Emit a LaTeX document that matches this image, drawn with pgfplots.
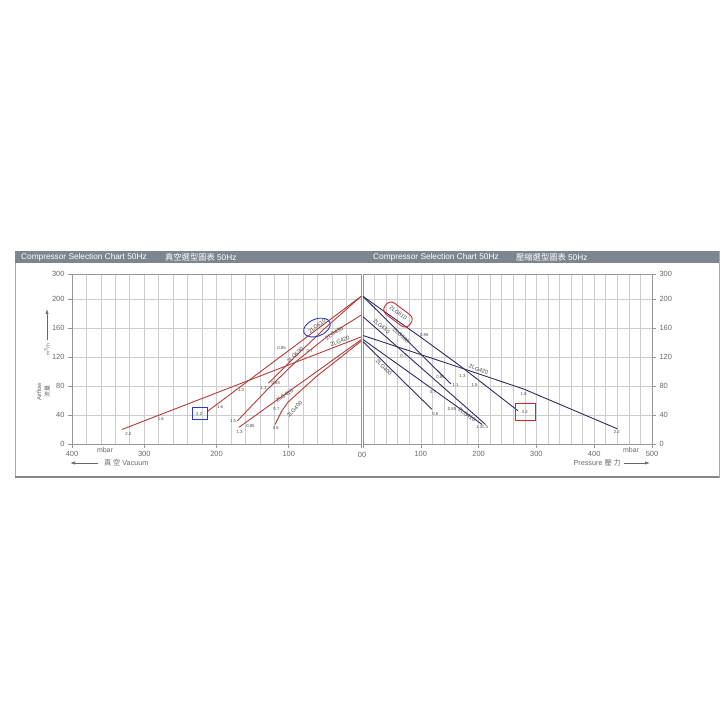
\documentclass[border=0pt]{standalone}
\usepackage{pgfplots}
\pgfplotsset{compat=1.18}
\usepackage{fontspec}
\setmainfont{Liberation Sans}
\newfontfamily\cjk{Noto Sans CJK TC}
\usetikzlibrary{shapes.geometric,arrows.meta}
\definecolor{gridc}{RGB}{205,205,205}
\definecolor{axc}{RGB}{150,150,150}
\definecolor{tickc}{RGB}{105,105,105}
\definecolor{vac}{RGB}{180,60,55}
\definecolor{prs}{RGB}{44,46,98}
\definecolor{barc}{RGB}{125,134,143}
\definecolor{framec}{RGB}{170,170,170}
\definecolor{lab}{RGB}{70,70,70}
\definecolor{hlblue}{RGB}{40,60,200}
\definecolor{hlred}{RGB}{215,40,40}
\pgfplotsset{
  panel/.style={
    scale only axis, width=289bp, height=169.7bp,
    ymin=0, ymax=234.6,
    ytick={0,40,80,120,160,200,234.6},
    yticklabels={0,40,80,120,160,200,300},
    xmajorgrids, xminorgrids, ymajorgrids,
    grid style={gridc, line width=0.6bp},
    minor grid style={gridc, line width=0.6bp},
    axis line style={axc, line width=0.7bp},
    major tick style={axc, line width=0.6bp},
    major tick length=4bp, minor tick length=0pt,
    tick align=outside,
    ticklabel style={font=\fontsize{7.5}{8}\selectfont, text=tickc},
    clip=false,
  },
  vline/.style={vac, line width=0.9bp, no marks},
  pline/.style={prs, line width=0.9bp, no marks},
}
\newcommand{\lb}[1]{{\fontsize{4.3}{5}\selectfont #1}}
\newcommand{\nm}[1]{{\fontsize{5.6}{6}\selectfont #1}}
\begin{document}
\begin{tikzpicture}[x=1bp,y=1bp]
\path[use as bounding box, fill=white] (0,0) rectangle (726,726);
% frame and title bar
\draw[framec, line width=0.8bp] (15,249) rectangle (719,475);
\draw[framec!80!black, line width=1.4bp] (15,249) -- (719,249);
\fill[barc] (15,463) rectangle (719,475);
\node[anchor=west, text=white, font=\fontsize{8.3}{9}\selectfont, inner sep=0] at (21,469) {Compressor Selection Chart 50Hz};
\node[anchor=west, text=white, font=\fontsize{8.3}{9}\selectfont, inner sep=0] at (165,469) {{\cjk 真空選型圖表} 50Hz};
\node[anchor=west, text=white, font=\fontsize{8.3}{9}\selectfont, inner sep=0] at (373,469) {Compressor Selection Chart 50Hz};
\node[anchor=west, text=white, font=\fontsize{8.3}{9}\selectfont, inner sep=0] at (516,469) {{\cjk 壓縮選型圖表} 50Hz};

% ===== Left panel: vacuum =====
\begin{axis}[panel,
  at={(72bp,282bp)}, anchor=south west,
  xmin=0, xmax=400, x dir=reverse,
  xtick={0,100,200,300,400}, xticklabels={,100,200,300,400},
  minor xtick={20,40,60,80,120,140,160,180,220,240,260,280,320,340,360,380},
  xtick pos=bottom, ytick pos=left,
]
\addplot[vline] coordinates {(331,20) (0,148)};                 % 2LG420
\addplot[vline] coordinates {(212,45.5) (0,204)};               % 2LG610
\addplot[vline] coordinates {(128,84) (95,117) (50,160) (0,204)}; % 2LG590
\addplot[vline] coordinates {(171,32) (130,75) (90,114) (45,150) (0,178)}; % 2LG430
\addplot[vline] coordinates {(169,23) (0,144)};                 % 2LG410
\addplot[vline] coordinates {(119,27) (110,45) (101,58) (61,94) (0,142)}; % 2LG400
% point labels
\node[text=lab] at (axis cs:322,14) {\lb{2.2}};
\node[text=lab] at (axis cs:277,35) {\lb{1.6}};
\node[text=lab] at (axis cs:224,42) {\lb{2.2}};
\node[text=lab] at (axis cs:195,51) {\lb{1.6}};
\node[text=lab] at (axis cs:166,74) {\lb{1.3}};
\node[text=lab] at (axis cs:110,132) {\lb{0.85}};
\node[text=lab] at (axis cs:135,78) {\lb{1.1}};
\node[text=lab] at (axis cs:118,84) {\lb{0.85}};
\node[text=lab] at (axis cs:177,32) {\lb{1.5}};
\node[text=lab] at (axis cs:168,17) {\lb{1.3}};
\node[text=lab] at (axis cs:153,25) {\lb{0.85}};
\node[text=lab] at (axis cs:117,48) {\lb{0.7}};
\node[text=lab] at (axis cs:118,22) {\lb{0.6}};
\node[text=lab] at (axis cs:71,128) {\lb{0.7}};
% model labels
\node[text=lab, rotate=36] at (axis cs:61,163) {\nm{2LG610}};
\node[text=lab, rotate=42] at (axis cs:91,123) {\nm{2LG590}};
\node[text=lab, rotate=33] at (axis cs:37,153) {\nm{2LG430}};
\node[text=lab, rotate=21] at (axis cs:29,142) {\nm{2LG420}};
\node[text=lab, rotate=34] at (axis cs:106,67) {\nm{2LG410}};
\node[text=lab, rotate=48] at (axis cs:92,48) {\nm{2LG400}};
% highlights
\node[draw=hlblue, line width=0.9bp, ellipse, minimum width=28bp, minimum height=17bp, rotate=22] at (axis cs:61,161) {};
\draw[hlblue, line width=0.9bp] (axis cs:233,50) rectangle (axis cs:213,33.5);
\end{axis}

% ===== Right panel: pressure =====
\begin{axis}[panel,
  at={(363bp,282bp)}, anchor=south west,
  xmin=0, xmax=500,
  xtick={0,100,200,300,400,500}, xticklabels={,100,200,300,400,500},
  minor xtick={20,40,60,80,120,140,160,180,220,240,260,280,320,340,360,380,420,440,460,480},
  xtick pos=bottom, ytick pos=right, yticklabel pos=right,
]
\addplot[pline] coordinates {(0,204) (101,147) (168,108) (268,46)}; % 2LG610
\addplot[pline] coordinates {(0,204) (152,83)};                 % 2LG590
\addplot[pline] coordinates {(0,176) (212,27)};                 % 2LG430
\addplot[pline] coordinates {(0,150) (159,108) (278,76) (440,21)}; % 2LG420
\addplot[pline] coordinates {(0,144.5) (206,27)};               % 2LG410
\addplot[pline] coordinates {(0,141.5) (119,48)};               % 2LG400
% point labels
\node[text=lab] at (axis cs:106,150) {\lb{0.85}};
\node[text=lab] at (axis cs:70,121) {\lb{0.7}};
\node[text=lab] at (axis cs:172,94) {\lb{1.3}};
\node[text=lab] at (axis cs:193,82) {\lb{1.5}};
\node[text=lab] at (axis cs:134,93) {\lb{0.85}};
\node[text=lab] at (axis cs:160,82) {\lb{1.1}};
\node[text=lab] at (axis cs:278,69) {\lb{1.6}};
\node[text=lab] at (axis cs:280,44) {\lb{2.2}};
\node[text=lab] at (axis cs:439,16) {\lb{2.2}};
\node[text=lab] at (axis cs:121,72) {\lb{0.7}};
\node[text=lab] at (axis cs:125,41) {\lb{0.6}};
\node[text=lab] at (axis cs:154,48) {\lb{0.85}};
\node[text=lab] at (axis cs:201,23) {\lb{1.3}};
\node[text=lab] at (axis cs:211,23) {\lb{1.5}};
% model labels
\node[text=lab, rotate=-37] at (axis cs:61,181) {\nm{2LG610}};
\node[text=lab, rotate=-41] at (axis cs:32,163) {\nm{2LG430}};
\node[text=lab, rotate=-42] at (axis cs:66,150) {\nm{2LG590}};
\node[text=lab, rotate=-20] at (axis cs:200,103) {\nm{2LG420}};
\node[text=lab, rotate=-44] at (axis cs:36,106) {\nm{2LG400}};
\node[text=lab, rotate=-35] at (axis cs:180,40) {\nm{2LG410}};
% highlights
\node[draw=hlred, line width=0.9bp, rounded corners=6bp, minimum width=31bp, minimum height=14bp, rotate=-37] at (axis cs:60.5,179) {};
\draw[hlred, line width=0.9bp] (axis cs:263,56) rectangle (axis cs:299,32);
\end{axis}

% centre zero labels
\node[text=tickc, font=\fontsize{7.5}{8}\selectfont] at (362,271) {00};
% axis captions
\node[text=tickc, font=\fontsize{7}{8}\selectfont] at (105,276) {mbar};
\node[text=tickc, font=\fontsize{7}{8}\selectfont] at (631,276) {mbar};
\draw[tickc, line width=0.7bp, -{Latex[length=5bp,width=3.2bp]}] (98,263) -- (70,263);
\node[anchor=west, text=tickc, font=\fontsize{7.3}{8}\selectfont, inner sep=0] at (104,263) {{\cjk 真\ 空}\ Vacuum};
\node[anchor=east, text=tickc, font=\fontsize{7.3}{8}\selectfont, inner sep=0] at (621,263) {Pressure\ {\cjk 壓\ 力}};
\draw[tickc, line width=0.7bp, -{Latex[length=5bp,width=3.2bp]}] (624,263) -- (650,263);
% y caption
\node[rotate=90, text=tickc, font=\fontsize{6}{7}\selectfont] at (39,334) {Airflow};
\node[rotate=90, text=tickc, font=\fontsize{6}{7}\selectfont] at (47,334.5) {\cjk 流量};
\node[rotate=90, text=tickc, font=\fontsize{5}{6}\selectfont] at (47,376) {m\textsuperscript{3}/h};
\draw[tickc, line width=0.6bp, -{Latex[length=5bp,width=3.2bp]}] (47,386) -- (47,417);
\end{tikzpicture}
\end{document}
